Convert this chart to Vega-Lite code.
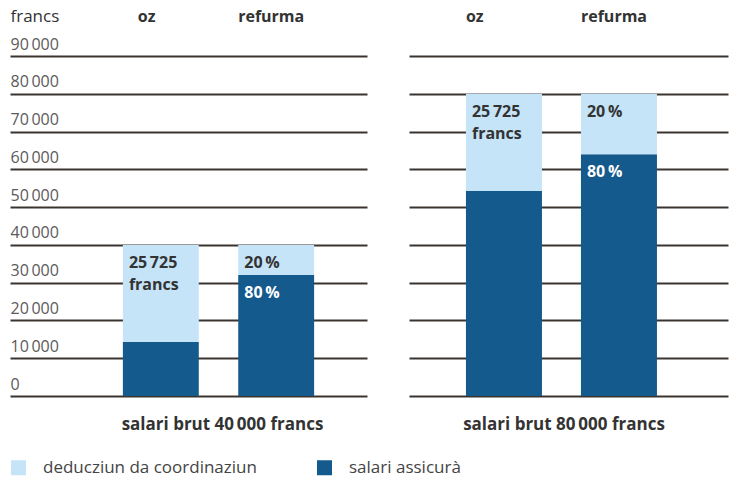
{
  "$schema": "https://vega.github.io/schema/vega-lite/v6.json",
  "padding": {"left": 10, "top": 7, "right": 5, "bottom": 5},
  "background": "white",
  "config": {
    "font": "Open Sans",
    "view": {"stroke": null},
    "legend": {
      "orient": "none", "legendX": 0, "legendY": 403,
      "direction": "horizontal", "symbolType": "square", "symbolSize": 225,
      "symbolStrokeWidth": 0, "symbolOpacity": 1, "labelFontSize": 17,
      "labelColor": "#444444", "labelOffset": 16, "columnPadding": 59,
      "labelLimit": 400, "labelFont": "Open Sans"
    }
  },
  "data": {"values": [
    {"panel": "a", "scheme": "oz", "part": "salari assicurà", "value": 14275, "label": ""},
    {"panel": "a", "scheme": "oz", "part": "deducziun da coordinaziun", "value": 25725, "label": "25\u2009725\nfrancs"},
    {"panel": "a", "scheme": "refurma", "part": "salari assicurà", "value": 32000, "label": "80\u2009%"},
    {"panel": "a", "scheme": "refurma", "part": "deducziun da coordinaziun", "value": 8000, "label": "20\u2009%"},
    {"panel": "b", "scheme": "oz", "part": "salari assicurà", "value": 54275, "label": ""},
    {"panel": "b", "scheme": "oz", "part": "deducziun da coordinaziun", "value": 25725, "label": "25\u2009725\nfrancs"},
    {"panel": "b", "scheme": "refurma", "part": "salari assicurà", "value": 64000, "label": "80\u2009%"},
    {"panel": "b", "scheme": "refurma", "part": "deducziun da coordinaziun", "value": 16000, "label": "20\u2009%"}
  ]},
  "resolve": {"scale": {"color": "shared"}},
  "spacing": 42,
  "hconcat": [
    {
      "width": 357, "height": 340,
      "transform": [{"filter": "datum.panel === 'a'"}],
      "title": {"text": "salari brut 40\u2009000 francs", "orient": "bottom", "anchor": "middle", "frame": "group", "dx": 34, "offset": 34, "baseline": "alphabetic", "fontSize": 17, "fontWeight": "bold", "color": "#333333", "font": "Open Sans"},
      "encoding": {
        "x": {"field": "scheme", "type": "nominal",
          "scale": {"domain": ["oz", "refurma"], "paddingInner": 0.342, "paddingOuter": 0.7186, "align": 0.681},
          "axis": {"orient": "top", "title": null, "domain": false, "ticks": false, "tickSize": 0, "grid": false, "labelAlign": "left", "labelBaseline": "alphabetic", "labelPadding": 35, "labelFontSize": 16, "labelFontWeight": "bold", "labelColor": "#333333", "labelAngle": 0,
            "labelOffset": {"condition": {"test": "datum.value === 'oz'", "value": -23}, "value": -38}}},
        "y": {"field": "value", "type": "quantitative", "stack": "zero",
          "scale": {"domain": [0, 90000], "nice": false},
          "axis": {"values": [0, 10000, 20000, 30000, 40000, 50000, 60000, 70000, 80000, 90000], "grid": true, "gridColor": "#3a3430", "gridWidth": 2, "domain": false, "ticks": false, "tickSize": 0, "labelAlign": "left", "labelBaseline": "alphabetic", "labelOffset": -7, "labelPadding": 0, "labelOverlap": false, "labelFontSize": 16, "labelColor": "#5a5a5a", "labelExpr": "replace(format(datum.value, ','), ',', '\u2009')",
            "title": "francs", "titleAngle": 0, "titleAlign": "left", "titleBaseline": "alphabetic", "titleX": 0, "titleY": -35, "titleFontWeight": "normal", "titleFontSize": 17, "titleColor": "#333333"}},
        "order": {"field": "part", "sort": "descending"}
      },
      "layer": [
        {"mark": {"type": "bar"},
         "encoding": {"color": {"field": "part", "type": "nominal", "title": null,
           "scale": {"domain": ["deducziun da coordinaziun", "salari assicurà"], "range": ["#c5e4f8", "#155a8c"]}}}},
        {"mark": {"type": "text", "align": "left", "baseline": "alphabetic", "dx": 6, "dy": 23, "fontSize": 16, "fontWeight": "bold", "lineBreak": "\n", "lineHeight": 22},
         "encoding": {
           "x": {"field": "scheme", "type": "nominal", "bandPosition": 0},
           "detail": {"field": "part"},
           "text": {"field": "label"},
           "color": {"condition": {"test": "datum.part === 'salari assicurà'", "value": "white"}, "value": "#333333"}}}
      ]
    },
    {
      "width": 319, "height": 340,
      "transform": [{"filter": "datum.panel === 'b'"}],
      "title": {"text": "salari brut 80\u2009000 francs", "orient": "bottom", "anchor": "middle", "frame": "group", "dx": -4.5, "offset": 34, "baseline": "alphabetic", "fontSize": 17, "fontWeight": "bold", "color": "#333333", "font": "Open Sans"},
      "encoding": {
        "x": {"field": "scheme", "type": "nominal",
          "scale": {"domain": ["oz", "refurma"], "paddingInner": 0.339, "paddingOuter": 0.5565, "align": 0.445},
          "axis": {"orient": "top", "title": null, "domain": false, "ticks": false, "tickSize": 0, "grid": false, "labelAlign": "left", "labelBaseline": "alphabetic", "labelPadding": 35, "labelFontSize": 16, "labelFontWeight": "bold", "labelColor": "#333333", "labelAngle": 0, "labelOffset": -38}},
        "y": {"field": "value", "type": "quantitative", "stack": "zero",
          "scale": {"domain": [0, 90000], "nice": false},
          "axis": {"values": [0, 10000, 20000, 30000, 40000, 50000, 60000, 70000, 80000, 90000], "grid": true, "gridColor": "#3a3430", "gridWidth": 2, "domain": false, "ticks": false, "tickSize": 0, "labels": false, "title": null}},
        "order": {"field": "part", "sort": "descending"}
      },
      "layer": [
        {"mark": {"type": "bar"},
         "encoding": {"color": {"field": "part", "type": "nominal", "title": null,
           "scale": {"domain": ["deducziun da coordinaziun", "salari assicurà"], "range": ["#c5e4f8", "#155a8c"]}}}},
        {"mark": {"type": "text", "align": "left", "baseline": "alphabetic", "dx": 6, "dy": 23, "fontSize": 16, "fontWeight": "bold", "lineBreak": "\n", "lineHeight": 22},
         "encoding": {
           "x": {"field": "scheme", "type": "nominal", "bandPosition": 0},
           "detail": {"field": "part"},
           "text": {"field": "label"},
           "color": {"condition": {"test": "datum.part === 'salari assicurà'", "value": "white"}, "value": "#333333"}}}
      ]
    }
  ]
}
